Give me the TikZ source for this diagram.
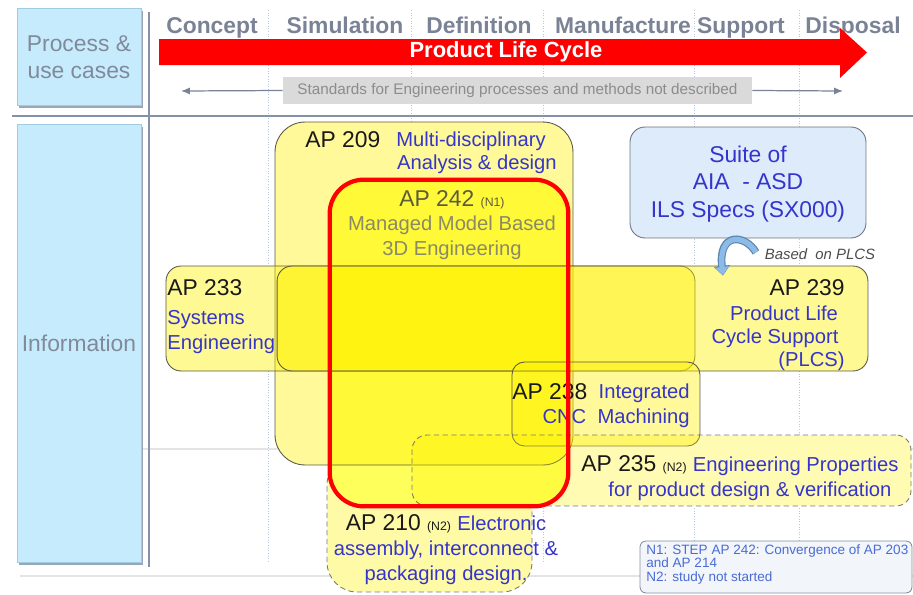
\documentclass[tikz,border=0pt]{standalone}
\usepackage{fontspec}
\setmainfont{Liberation Sans}
\usetikzlibrary{arrows.meta}
\definecolor{sidefill}{HTML}{C6EBFC}
\definecolor{sideedge}{HTML}{9FCBE3}
\definecolor{sideshadow}{HTML}{9AA6B8}
\definecolor{sidetext}{HTML}{808A9A}
\definecolor{sepline}{HTML}{8591A8}
\definecolor{phasetext}{HTML}{7A8296}
\definecolor{phasedot}{HTML}{B4C6E0}
\definecolor{plcred}{HTML}{FF0000}
\definecolor{stdfill}{HTML}{DADADA}
\definecolor{stdtext}{HTML}{8C8C8C}
\definecolor{stdline}{HTML}{7A8296}
\definecolor{faint}{HTML}{E4E4E4}
\definecolor{boxline}{HTML}{5A5A4A}
\definecolor{descblue}{HTML}{3535CC}
\definecolor{apgray}{HTML}{5C5C3D}
\definecolor{apgraylt}{HTML}{8A8A66}
\definecolor{ap242fill}{HTML}{FFFF5C}
\definecolor{suitefill}{HTML}{DDEBFA}
\definecolor{suiteline}{HTML}{6E7380}
\definecolor{notefill}{HTML}{F2F5FA}
\definecolor{noteblue}{HTML}{4A6CD4}
\definecolor{basedblue}{HTML}{8CBBE8}
\definecolor{basededge}{HTML}{5F86B0}

\tikzset{
  sidelabel/.style={text=sidetext, font=\fontsize{13}{15.3}\selectfont, align=center},
  phase/.style={text=phasetext, font=\fontsize{13}{15}\selectfont\bfseries, anchor=base},
  apname/.style={text=black!90, font=\fontsize{13}{15}\selectfont, inner sep=0pt},
  apdesc/.style={text=descblue, font=\fontsize{11.5}{14}\selectfont, inner sep=0pt},
  apbox/.style={draw=boxline, line width=0.5pt, fill=yellow, inner sep=0pt},
  apdash/.style={apbox, densely dashed, draw=boxline!80},
}
\newcommand\ntag[1]{{\fontsize{7}{8}\selectfont(#1)}}

\begin{document}
\begin{tikzpicture}[x=0.02cm, y=-0.02cm]
  \useasboundingbox (0,0) rectangle (913,595);

  % phase grid and faint rules
  \draw[faint, line width=0.6pt] (143,449) -- (913,449);
  \draw[faint, line width=0.6pt] (20,576) -- (913,576);
  \foreach \px in {268,411,543,694,799}
    \draw[phasedot, densely dotted, line width=0.5pt] (\px,10) -- (\px,562);

  % left column
  \fill[sideshadow] (19,11) rectangle (143,108);
  \fill[sideshadow] (19,127) rectangle (143,565);
  \node[fill=sidefill, draw=sideedge, minimum width=2.48cm, minimum height=1.94cm] (procbox) at (79,56.5) {};
  \node[fill=sidefill, draw=sideedge, minimum width=2.48cm, minimum height=8.76cm] (infobox) at (79,343) {};
  \node[sidelabel] (proclabel) at (79,57) {Process \&\\use cases};
  \node[sidelabel] (infolabel) at (79,343) {Information};

  % separators
  \draw[sepline, line width=1.3pt] (12,116) -- (913,116);
  \draw[sepline, line width=1.3pt] (149,12) -- (149,567);

  % phases
  \node[phase] (concept) at (212,33) {Concept};
  \node[phase] (simul) at (345,33) {Simulation};
  \node[phase] (defin) at (479,33) {Definition};
  \node[phase] (manuf) at (623,33) {Manufacture};
  \node[phase] (supp) at (741,33) {Support};
  \node[phase] (dispo) at (853,33) {Disposal};

  % life cycle arrow
  \fill[plcred] (159,39) -- (840,39) -- (840,28) -- (867,52.5) -- (840,78) -- (840,65) -- (159,65) -- cycle;
  \node[white, font=\fontsize{12.5}{15}\selectfont\bfseries] (plc) at (506,52) {Product Life Cycle};

  % standards band
  \node[fill=stdfill, minimum width=9.38cm, minimum height=0.54cm, inner sep=0pt,
        text=stdtext, font=\fontsize{8.7}{10}\selectfont] (stdbox) at (517.5,90.5)
        {Standards for Engineering processes and methods not described};
  \coordinate (stdleft) at (181,91);
  \coordinate (stdright) at (843,91);
  \draw[stdline, line width=0.7pt, -{Latex[length=5pt,width=4pt]}] (stdbox.west) -- (stdleft);
  \draw[stdline, line width=0.7pt, -{Latex[length=5pt,width=4pt]}] (stdbox.east) -- (stdright);

  % white ground under the boxes
  \foreach \cx/\cy/\w/\h/\r in {424/293.5/5.96/6.86/0.6, 430.5/318.5/10.58/2.1/0.3, 572.5/318.5/11.82/2.1/0.3,
      606/404/3.76/1.68/0.25, 661.5/470.5/9.98/1.42/0.3, 429.5/523.5/4.1/2.74/0.6}
    \fill[white, rounded corners=\r cm] (\cx,\cy) ++(-\w cm/2,-\h cm/2) rectangle ++(\w cm,\h cm);

  % application protocol boxes
  \node[apdash, fill opacity=0.35, rounded corners=0.6cm, minimum width=4.1cm, minimum height=2.74cm] (ap210) at (429.5,523.5) {};
  \node[fill=ap242fill, inner sep=0pt, rounded corners=0.7cm, minimum width=4.76cm, minimum height=6.52cm] (ap242) at (449,343) {};
  \node[apbox, fill opacity=0.4, rounded corners=0.6cm, minimum width=5.96cm, minimum height=6.86cm] (ap209) at (424,293.5) {};
  \node[apbox, fill opacity=0.42, rounded corners=0.3cm, minimum width=10.58cm, minimum height=2.1cm] (ap233) at (430.5,318.5) {};
  \node[apbox, fill opacity=0.42, rounded corners=0.3cm, minimum width=11.82cm, minimum height=2.1cm] (ap239) at (572.5,318.5) {};
  \node[apbox, fill opacity=0.4, rounded corners=0.25cm, minimum width=3.76cm, minimum height=1.68cm] (ap238) at (606,404) {};
  \node[apdash, fill opacity=0.3, rounded corners=0.3cm, minimum width=9.98cm, minimum height=1.42cm] (ap235) at (661.5,470.5) {};

  % suite and note
  \node[fill=suitefill, draw=suiteline, line width=0.5pt, rounded corners=0.3cm, minimum width=4.72cm, minimum height=2.22cm] (suite) at (748,182.5) {};
  \node[text=descblue, font=\fontsize{13}{15.5}\selectfont, align=center] (suitetext) at (748,184)
        {Suite of\\AIA~~- ASD\\ILS Specs (SX000)};
  \node[fill=notefill, draw=suiteline!80, line width=0.5pt, rounded corners=0.12cm, minimum width=5.44cm, minimum height=1.04cm] (note) at (776,567) {};
  \node[text=noteblue, font=\fontsize{7.7}{7.9}\selectfont, align=left, anchor=west, inner sep=0pt] (notetext) at (646,564.5)
        {N1: STEP AP 242: Convergence of AP 203\\and AP 214\\N2: study not started};

  % based on arrow
  \draw[basededge, line width=4.4pt, -{Triangle[length=5.5pt,width=9pt]}]
    ([xshift=0.16cm,yshift=-0.28cm]suite.south) .. controls (745,234) and (718,232) .. ([xshift=3.01cm,yshift=-0.2cm]ap239.north);
  \draw[basedblue, line width=3pt, -{Triangle[length=4.5pt,width=7.5pt]}, shorten >=0.4pt]
    ([xshift=0.16cm,yshift=-0.28cm]suite.south) .. controls (745,234) and (718,232) .. ([xshift=3.01cm,yshift=-0.2cm]ap239.north);
  \node[text=black!70, font=\fontsize{8.5}{10}\selectfont\itshape] (basedon) at (820,254) {Based~ on PLCS};

  % texts
  \node[apname, anchor=west] (ap209name) at (305,140) {AP 209};
  \node[apdesc, anchor=west] (ap209d1) at (396,141) {Multi-disciplinary};
  \node[apdesc, anchor=east] (ap209d2) at (557,164) {Analysis \& design};

  \node[text=apgray, font=\fontsize{13}{15}\selectfont] (ap242name) at (452,200) {AP 242 \ntag{N1}};
  \node[text=apgraylt, font=\fontsize{11.5}{14}\selectfont] (ap242d1) at (452,225) {Managed Model Based};
  \node[text=apgraylt, font=\fontsize{11.5}{14}\selectfont] (ap242d2) at (452,250) {3D Engineering};

  \node[apname, anchor=west] (ap233name) at (167,288) {AP 233};
  \node[apdesc, anchor=west] (ap233d1) at (167,320) {Systems};
  \node[apdesc, anchor=west] (ap233d2) at (167,344) {Engineering};

  \node[apname, anchor=east] (ap239name) at (845,288) {AP 239};
  \node[apdesc] (ap239d1) at (784,313) {Product Life};
  \node[apdesc] (ap239d2) at (775,338) {Cycle Support};
  \node[apdesc, anchor=east] (ap239d3) at (845,361) {(PLCS)};

  \node[apname, anchor=west] (ap238name) at (512,392) {AP 238};
  \node[apdesc, anchor=east] (ap238d1) at (690,393) {Integrated};
  \node[apdesc, anchor=east] (ap238d2) at (690,418) {CNC~ Machining};

  \node[apname] (ap235name) at (740,466) {AP 235 \ntag{N2} \textcolor{descblue}{\fontsize{11.5}{14}\selectfont Engineering Properties}};
  \node[apdesc] (ap235d) at (750,491) {for product design \& verification};

  \node[apname] (ap210name) at (446,524) {AP 210 \ntag{N2} \textcolor{descblue}{\fontsize{11.5}{14}\selectfont Electronic}};
  \node[apdesc] (ap210d1) at (446,550) {assembly, interconnect \&};
  \node[apdesc] (ap210d2) at (446,575) {packaging design.};

  % AP 242 outline on top
  \draw[plcred, line width=2.4pt, rounded corners=0.68cm] (ap242.north west) rectangle (ap242.south east);
\end{tikzpicture}
\end{document}
